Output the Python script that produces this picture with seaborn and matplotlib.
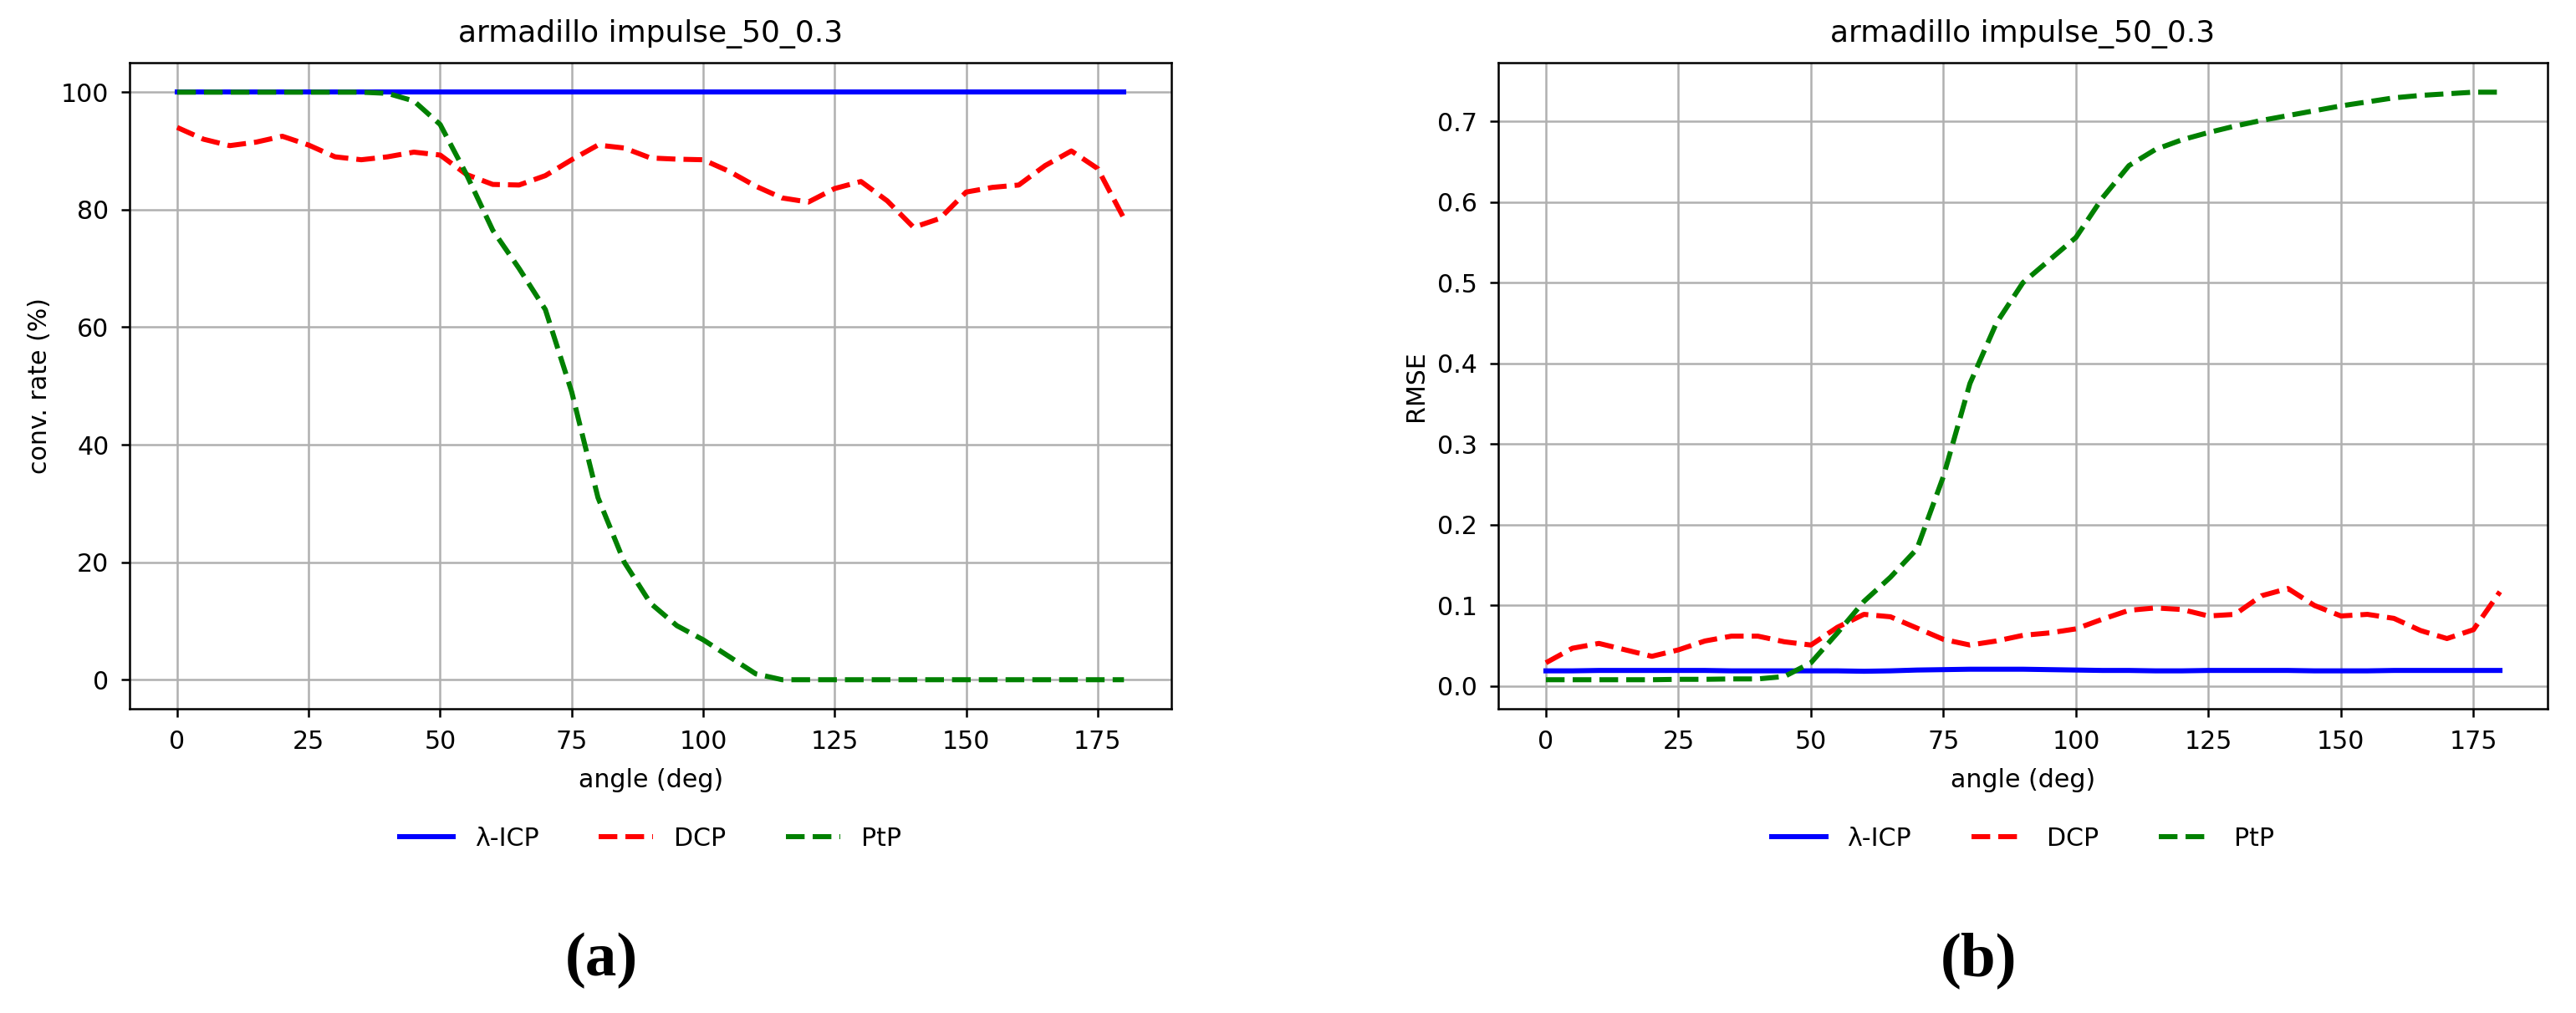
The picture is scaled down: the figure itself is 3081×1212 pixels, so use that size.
import numpy as np
import pandas as pd
import matplotlib
matplotlib.use("Agg")
import matplotlib.pyplot as plt
import seaborn as sns

# angles (deg), one sample every 5 degrees
angles = list(range(0, 181, 5))

# (a) convergence rate (%)
conv_licp = [100] * 37
conv_dcp = [94.0, 92.0, 90.9, 91.5, 92.5, 91.0, 89.0, 88.5, 89.0, 89.8,
            89.3, 86.0, 84.3, 84.2, 85.8, 88.5, 91.0, 90.5, 88.8, 88.6,
            88.5, 86.5, 84.0, 82.0, 81.3, 83.6, 84.8, 81.5, 77.0, 78.5,
            83.0, 83.8, 84.2, 87.5, 90.0, 87.0, 78.5]
conv_ptp = [100, 100, 100, 100, 100, 100, 100, 100, 99.8, 98.5,
            94.5, 86.0, 76.5, 70.0, 63.0, 49.0, 31.0, 20.0, 13.0, 9.2,
            6.8, 3.9, 1.0, 0, 0, 0, 0, 0, 0, 0,
            0, 0, 0, 0, 0, 0, 0]

# (b) RMSE
rmse_licp = [0.019, 0.019, 0.0195, 0.0195, 0.0195, 0.0195, 0.0195, 0.019, 0.019, 0.019,
             0.019, 0.019, 0.0185, 0.019, 0.020, 0.0205, 0.021, 0.021, 0.021, 0.0205,
             0.020, 0.0195, 0.0195, 0.019, 0.019, 0.0195, 0.0195, 0.0195, 0.0195, 0.019,
             0.019, 0.019, 0.0195, 0.0195, 0.0195, 0.0195, 0.0195]
rmse_dcp = [0.029, 0.047, 0.053, 0.045, 0.037, 0.045, 0.056, 0.062, 0.062, 0.055,
            0.051, 0.073, 0.089, 0.086, 0.072, 0.058, 0.051, 0.056, 0.063, 0.066,
            0.071, 0.083, 0.094, 0.097, 0.095, 0.087, 0.089, 0.112, 0.121, 0.100,
            0.087, 0.089, 0.084, 0.069, 0.059, 0.070, 0.117]
rmse_ptp = [0.008, 0.008, 0.008, 0.008, 0.008, 0.0085, 0.0085, 0.009, 0.009, 0.012,
            0.029, 0.066, 0.105, 0.135, 0.170, 0.260, 0.375, 0.450, 0.500, 0.528,
            0.556, 0.605, 0.645, 0.665, 0.677, 0.686, 0.694, 0.701, 0.707, 0.713,
            0.719, 0.724, 0.729, 0.732, 0.734, 0.736, 0.736]

methods = ["λ-ICP", "DCP", "PtP"]
colors = {"λ-ICP": "blue", "DCP": "red", "PtP": "green"}
dashes = {"λ-ICP": "", "DCP": (3.7, 1.6), "PtP": (3.7, 1.6)}

fs = 7.2
plt.rcParams.update({
    "font.size": fs,
    "axes.linewidth": 0.6,
    "grid.linewidth": 0.6,
    "xtick.major.width": 0.6,
    "ytick.major.width": 0.6,
    "xtick.major.size": 2.5,
    "ytick.major.size": 2.5,
})


def long_df(series):
    rows = []
    for name, vals in zip(methods, series):
        for a, v in zip(angles, vals):
            rows.append((a, v, name))
    return pd.DataFrame(rows, columns=["angle", "value", "method"])


fig = plt.figure(figsize=(10.27, 4.04), dpi=300)
ax_a = fig.add_axes([0.0504, 0.300, 0.4043, 0.638])
ax_b = fig.add_axes([0.5816, 0.300, 0.4074, 0.638])

panels = [
    (ax_a, [conv_licp, conv_dcp, conv_ptp], "conv. rate (%)"),
    (ax_b, [rmse_licp, rmse_dcp, rmse_ptp], "RMSE"),
]

for ax, series, ylab in panels:
    df = long_df(series)
    sns.lineplot(data=df, x="angle", y="value", hue="method", style="method",
                 palette=colors, dashes=dashes, hue_order=methods,
                 style_order=methods, linewidth=1.45, ax=ax)
    ax.set_axisbelow(True)
    ax.grid(True, color="#b0b0b0")
    ax.set_title("armadillo impulse_50_0.3", fontsize=fs * 1.2)
    ax.set_xlabel("angle (deg)", fontsize=fs)
    ax.set_ylabel(ylab, fontsize=fs, labelpad=2.5)
    ax.set_xticks([0, 25, 50, 75, 100, 125, 150, 175])
    ax.tick_params(labelsize=fs)
    handles, labels = ax.get_legend_handles_labels()
    ax.legend(handles, labels, loc="center", bbox_to_anchor=(0.5, -0.2),
              ncol=3, frameon=False, fontsize=fs, handlelength=2.15,
              handletextpad=0.85, columnspacing=2.4)

ax_a.set_yticks([0, 20, 40, 60, 80, 100])
ax_b.set_yticks([0.0, 0.1, 0.2, 0.3, 0.4, 0.5, 0.6, 0.7])

fig.text(0.2334, 0.052, "(a)", ha="center", va="center", fontsize=18,
         fontweight="bold", family="Liberation Serif")
fig.text(0.768, 0.052, "(b)", ha="center", va="center", fontsize=18,
         fontweight="bold", family="Liberation Serif")

fig.savefig("out.png", dpi=300)
